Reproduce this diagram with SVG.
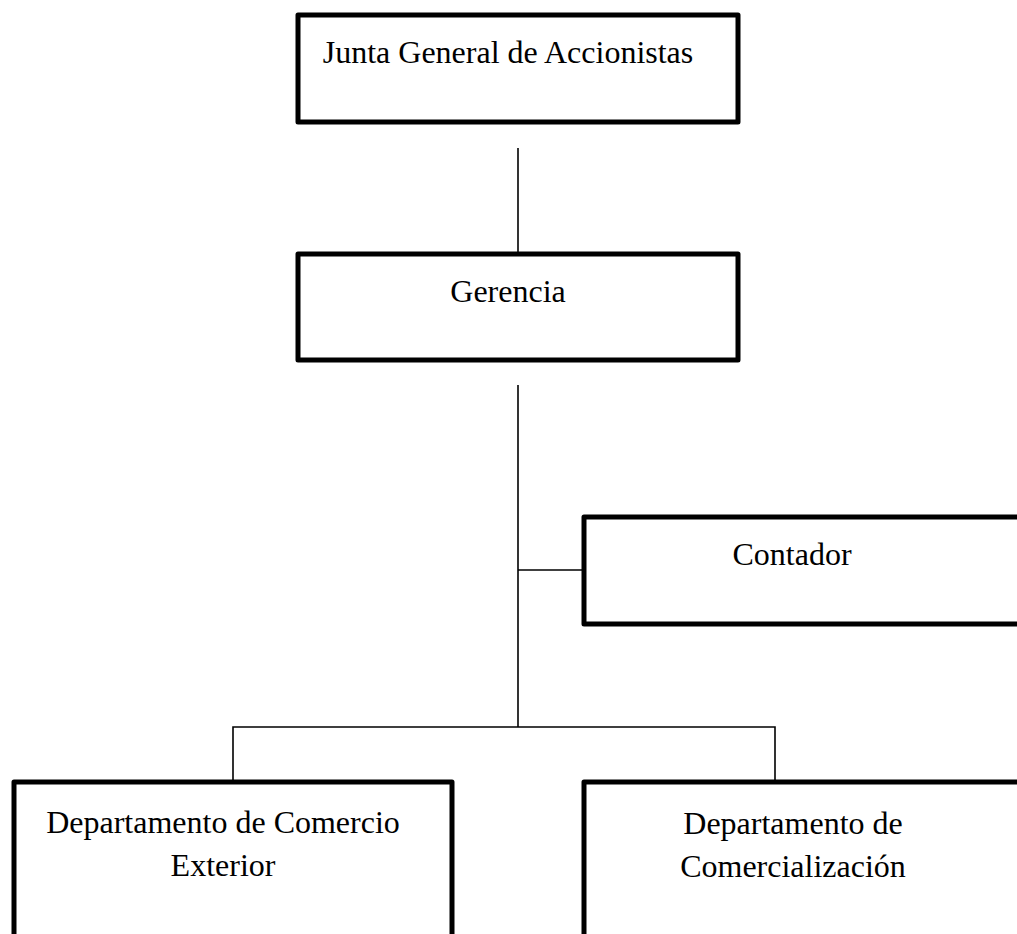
<svg xmlns="http://www.w3.org/2000/svg" width="1017" height="934" viewBox="0 0 1017 934">
<style>
.box{fill:#fff;stroke:#000;stroke-width:5;stroke-linejoin:round}
.ln{stroke:#000;stroke-width:1.6;fill:none}
text{font-family:"Liberation Serif","Times New Roman",serif;font-size:32px;fill:#000;text-anchor:middle}
</style>
<rect width="1017" height="934" fill="#fff"/>
<g id="connectors">
<line class="ln" x1="518" y1="148" x2="518" y2="252"/>
<line class="ln" x1="518" y1="385" x2="518" y2="727"/>
<line class="ln" x1="518" y1="570" x2="583" y2="570"/>
<polyline class="ln" points="233,781 233,727 775,727 775,781"/>
</g>
<g id="junta">
<rect class="box" x="298" y="15" width="440" height="107"/>
<text x="508" y="63">Junta General de Accionistas</text>
</g>
<g id="gerencia">
<rect class="box" x="298" y="254" width="440" height="106"/>
<text x="508" y="302">Gerencia</text>
</g>
<g id="contador">
<path class="box" d="M1030,517 H584 V624 H1030"/>
<text x="792" y="565">Contador</text>
</g>
<g id="comercio-exterior">
<path class="box" d="M14,950 V782 H452 V950"/>
<text x="223" y="833">Departamento de Comercio</text>
<text x="223" y="876">Exterior</text>
</g>
<g id="comercializacion">
<path class="box" d="M584,950 V782 H1030"/>
<text x="793" y="834">Departamento de</text>
<text x="793" y="877">Comercialización</text>
</g>
</svg>
